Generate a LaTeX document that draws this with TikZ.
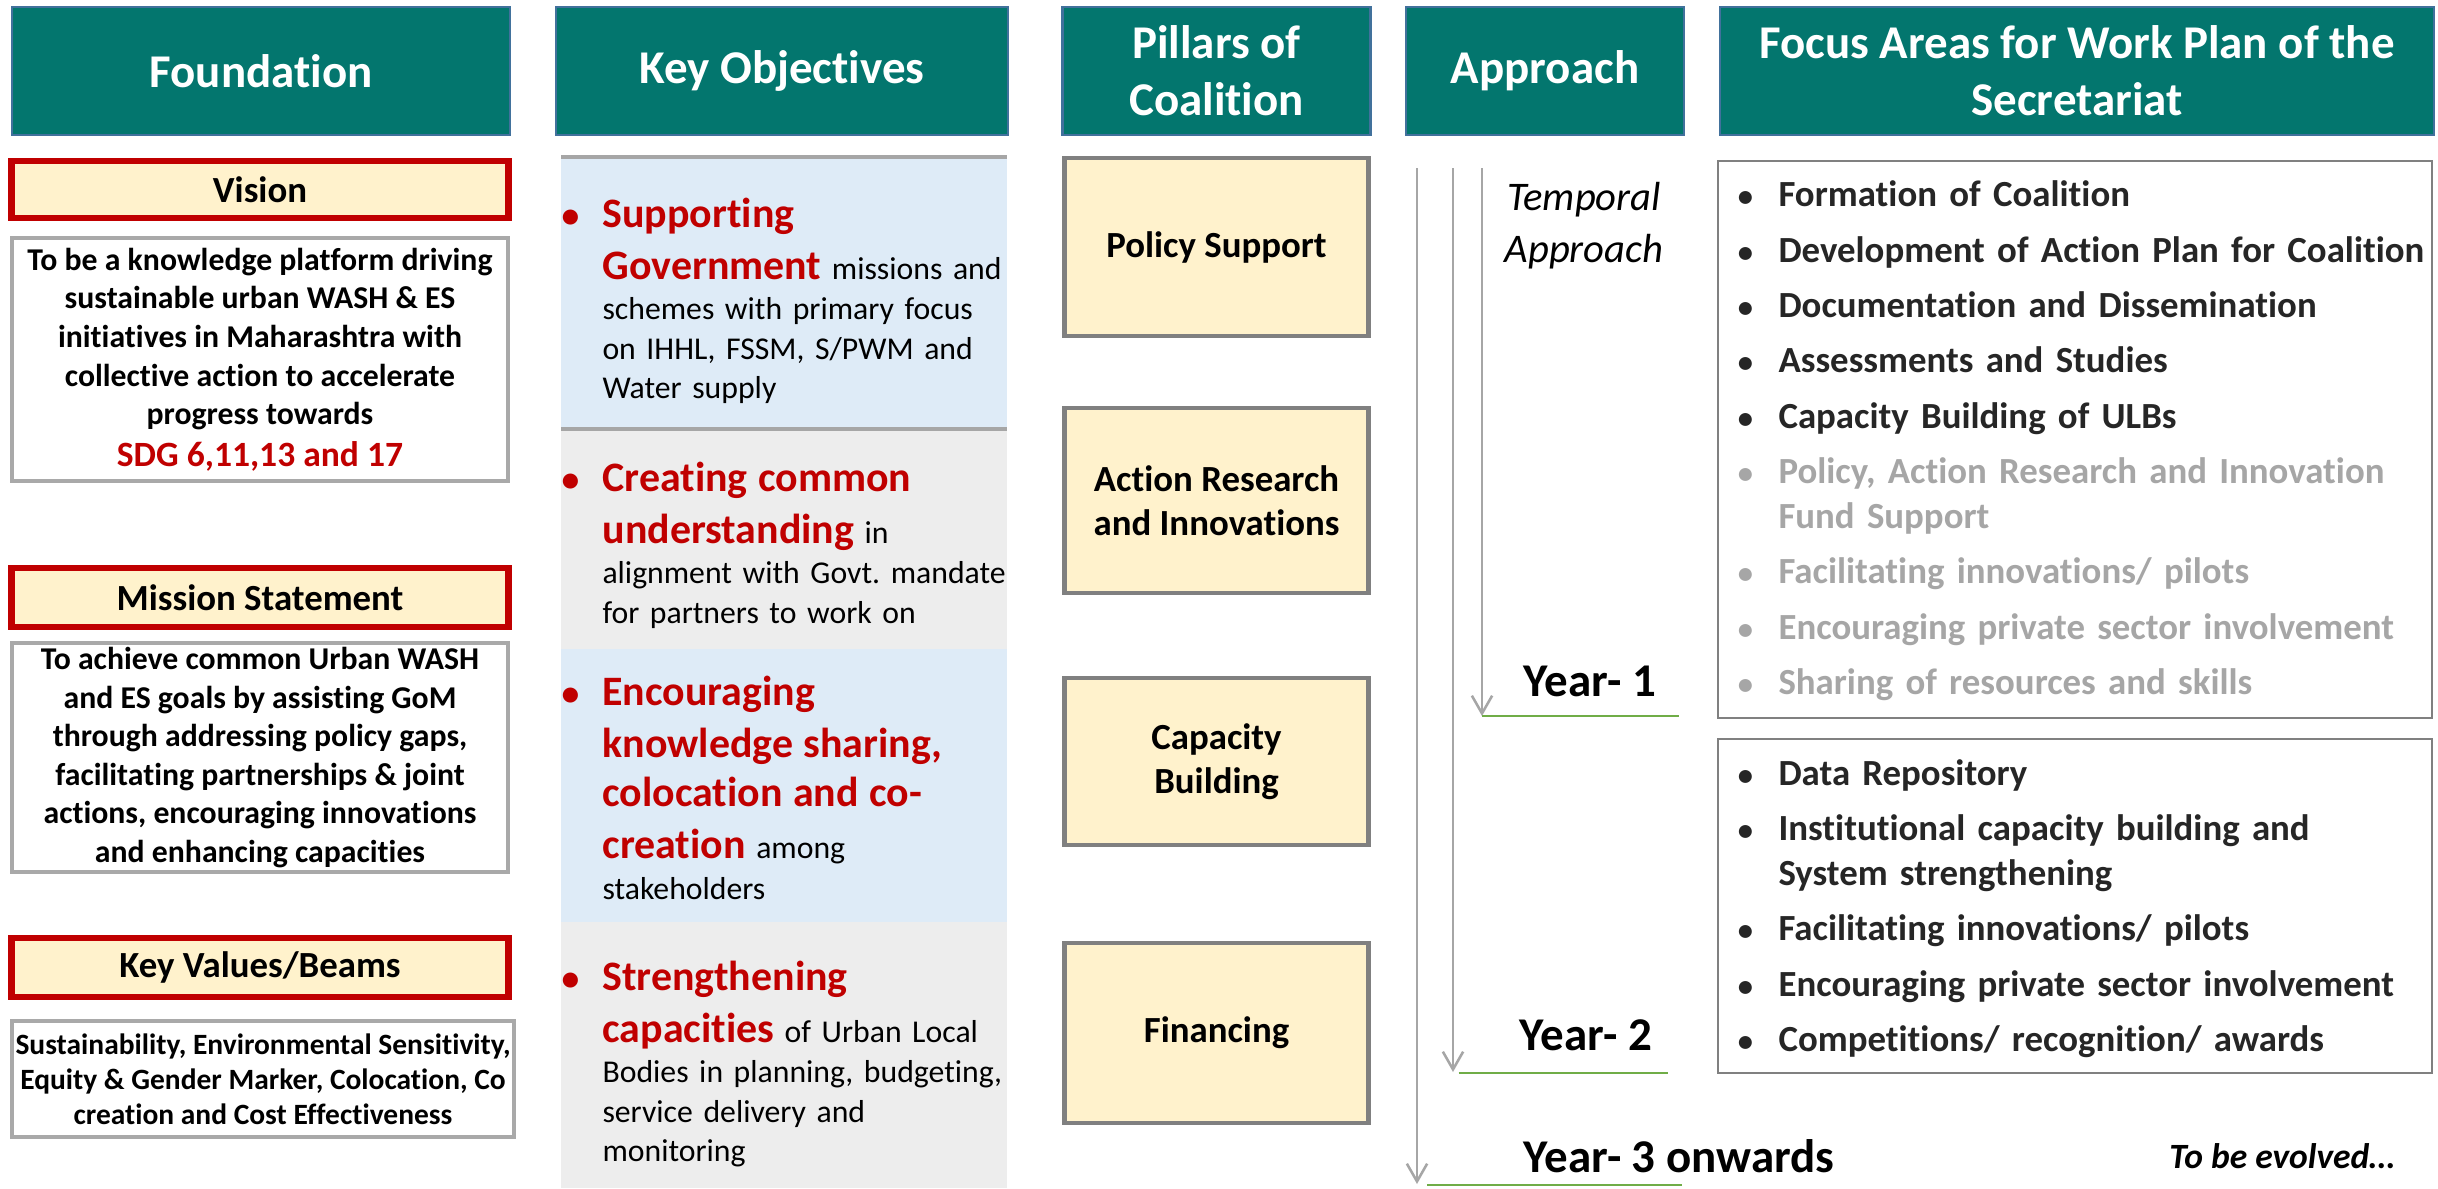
\documentclass[tikz,border=0pt]{standalone}
\usepackage{fontspec}
\setmainfont{Carlito}[Ligatures=NoCommon]
\usepackage{xcolor}
\usetikzlibrary{arrows.meta,positioning}
\frenchspacing

\definecolor{headteal}{HTML}{03766E}
\definecolor{headedge}{HTML}{41719C}
\definecolor{tagred}{HTML}{C00000}
\definecolor{cream}{HTML}{FFF2CC}
\definecolor{boxgray}{HTML}{A9A9A9}
\definecolor{pillgray}{HTML}{808080}
\definecolor{rowblue}{HTML}{DEEBF7}
\definecolor{rowgray}{HTML}{EDEDED}
\definecolor{fadegray}{HTML}{A6A6A6}
\definecolor{fdark}{HTML}{262626}
\definecolor{yeargreen}{HTML}{70AD47}

\newdimen\pxl
\pxl=0.39377pt

\newcommand{\tightlines}{\lineskiplimit=-50pt\relax}
\newcommand{\redbf}[1]{{\color{tagred}\fontsize{16.5}{20}\selectfont\bfseries #1}}
\newcommand{\objbul}{\leavevmode\llap{\makebox[25.2pt]{\color{tagred}\fontsize{14}{16}\selectfont\bfseries\textbullet}}}
\newcommand{\fbul}{\leavevmode\llap{\makebox[26pt]{\fontsize{12}{14}\selectfont\textbullet}}}
\newcommand{\fade}[1]{\textcolor{fadegray}{#1}}

\begin{document}
\begin{tikzpicture}[x=0.39377pt, y=-0.39377pt,
    header/.style={draw=headedge, line width=1pt, fill=headteal, text=white, align=center,
                   inner sep=0pt, minimum height=128*\pxl,
                   font=\fontsize{18.5}{22.5}\selectfont\bfseries},
    tagbox/.style={draw=tagred, line width=2.5pt, fill=cream, inner sep=0pt,
                   minimum width=497*\pxl, font=\fontsize{14.5}{17.5}\selectfont\bfseries},
    infobox/.style={draw=boxgray, line width=1.5pt, fill=white, align=center, inner sep=0pt,
                   font=\fontsize{12.5}{15.2}\selectfont\bfseries},
    pillar/.style={draw=pillgray, line width=1.8pt, fill=cream, align=center, inner sep=0pt,
                   minimum width=304*\pxl, font=\fontsize{14.5}{17.5}\selectfont\bfseries},
    objtext/.style={anchor=base west, text width=180pt, align=left, inner sep=0pt,
                   font=\fontsize{12.5}{15.4}\selectfont\tightlines},
    focusbox/.style={draw=pillgray, line width=1pt, minimum width=714*\pxl},
    focuslist/.style={anchor=base west, text width=265pt, align=left, inner sep=0pt, text=fdark,
                   font=\fontsize{14.5}{17.7}\selectfont\bfseries\tightlines},
    timeline/.style={draw=fadegray, line width=1pt, -{Straight Barb[length=7pt,width=8pt]}},
    yearline/.style={draw=yeargreen, line width=0.8pt},
    yearlabel/.style={anchor=base, inner sep=0pt, font=\fontsize{18.5}{22}\selectfont\bfseries},
  ]

\useasboundingbox[fill=white] (0,0) rectangle (2438,1188);

% column headers
\node[header, minimum width=498*\pxl] (hfound) at (261,71) {Foundation};
\node[header, minimum width=452*\pxl] (hobj) at (782,71) {Key Objectives};
\node[header, minimum width=308*\pxl] (hpill) at (1216.5,71) {Pillars of\\Coalition};
\node[header, minimum width=278*\pxl] (happr) at (1545,71) {Approach};
\node[header, minimum width=714*\pxl] (hfocus) at (2077,71) {Focus Areas for Work Plan of the\\Secretariat};

% foundation
\node[tagbox, minimum height=57*\pxl] (vision) at (260,189.5) {Vision};
\node[infobox, minimum width=496*\pxl, minimum height=243*\pxl] (visiontxt) at (260,359.5)
  {To be a knowledge platform driving\\ sustainable urban WASH \& ES\\ initiatives in Maharashtra with\\
   collective action to accelerate\\ progress towards\\[1.1pt]
   {\color{tagred}\fontsize{14}{17}\selectfont SDG 6,11,13 and 17}};
\node[tagbox, minimum height=59*\pxl] (mission) at (260,597.5) {Mission Statement};
\node[infobox, minimum width=496*\pxl, minimum height=229*\pxl] (missiontxt) at (260,757.5)
  {To achieve common Urban WASH\\ and ES goals by assisting GoM\\ through addressing policy gaps,\\
   facilitating partnerships \& joint\\ actions, encouraging innovations\\ and enhancing capacities};
\node[tagbox, minimum height=59*\pxl] (values) at (260,967.5) {Key Values/Beams};
\node[infobox, minimum width=502*\pxl, minimum height=116*\pxl,
      font=\fontsize{11.6}{13.8}\selectfont\bfseries] (valuestxt) at (263,1079)
  {Sustainability, Environmental Sensitivity,\\ Equity \& Gender Marker, Colocation, Co\\ creation and Cost Effectiveness};

% key objectives
\foreach \ya/\yb/\rowcol in {157/429/rowblue, 429/649/rowgray, 649/921.5/rowblue, 921.5/1188/rowgray}
  \fill[\rowcol] (561,\ya) rectangle (1007,\yb);
\draw[fadegray, line width=1.2pt] (561,157) -- (1007,157);
\draw[fadegray, line width=1.2pt] (561,429) -- (1007,429);

\node[objtext] (obj1) at (602,227.5) {\objbul\redbf{Supporting}\\[5.1pt]
  \redbf{Government} missions and\\[0.5pt]
  schemes with primary focus\\ on IHHL, FSSM, S/PWM and\\ Water supply};
\node[objtext] (obj2) at (602,491.5) {\objbul\redbf{Creating common}\\[5.1pt]
  \redbf{understanding} in\\[0.5pt]
  alignment with Govt. mandate\\ for partners to work on};
\node[objtext] (obj3) at (602,705.5) {\objbul\redbf{Encouraging}\\[5.1pt]
  \redbf{knowledge sharing,}\\[4pt]
  \redbf{colocation and co-}\\[5.1pt]
  \redbf{creation} among\\[0.5pt]
  stakeholders};
\node[objtext] (obj4) at (602,990.5) {\objbul\redbf{Strengthening}\\[5.1pt]
  \redbf{capacities} of Urban Local\\[0.5pt]
  Bodies in planning, budgeting,\\ service delivery and\\ monitoring};

% pillars
\node[pillar, minimum height=178*\pxl] (policy) at (1216.5,247) {Policy Support};
\node[pillar, minimum height=185*\pxl] (research) at (1216.5,500.5) {Action Research\\and Innovations};
\node[pillar, minimum height=167*\pxl] (capacity) at (1216.5,761.5) {Capacity\\Building};
\node[pillar, minimum height=180*\pxl] (finance) at (1216.5,1033) {Financing};

% approach
\coordinate (outertop) at (1417,168);
\coordinate (midtop) at (1453,168);
\coordinate (innertop) at (1482,168);
\coordinate (outerend) at (1417,1184);
\coordinate (midend) at (1453,1072);
\coordinate (innerend) at (1482,716);
\draw[timeline] (outertop) -- (outerend);
\draw[timeline] (midtop) -- (midend);
\draw[timeline] (innertop) -- (innerend);

\node[anchor=base, text width=110pt, align=center, inner sep=0pt,
      font=\fontsize{16}{20.3}\selectfont\itshape] (temporal) at (1584,210.5) {Temporal\\Approach};

\node[yearlabel] (year1) at (1590,696) {Year- 1};
\node[yearlabel] (year2) at (1586,1050) {Year- 2};
\node[yearlabel] (year3) at (1679,1172) {Year- 3 onwards};
\coordinate (g1a) at (1482,716);
\coordinate (g1b) at (1678.5,716);
\coordinate (g2a) at (1458.5,1073);
\coordinate (g2b) at (1668,1073);
\coordinate (g3a) at (1427,1185);
\coordinate (g3b) at (1682,1185);
\draw[yearline] (g1a) -- (g1b);
\draw[yearline] (g2a) -- (g2b);
\draw[yearline] (g3a) -- (g3b);

% focus areas
\node[focusbox, minimum height=557*\pxl] (phase1) at (2075,439.5) {};
\node[focusbox, minimum height=334*\pxl] (phase2) at (2075,906) {};
\node[focuslist] (list1) at (1778,206.7) {\fbul Formation of Coalition\\[4.1pt]
  \fbul Development of Action Plan for Coalition\\[4.1pt]
  \fbul Documentation and Dissemination\\[4.1pt]
  \fbul Assessments and Studies\\[4.1pt]
  \fbul Capacity Building of ULBs\\[4.1pt]
  \fade{\fbul Policy, Action Research and Innovation}\\
  \fade{Fund Support}\\[4.1pt]
  \fade{\fbul Facilitating innovations/ pilots}\\[4.1pt]
  \fade{\fbul Encouraging private sector involvement}\\[4.1pt]
  \fade{\fbul Sharing of resources and skills}};
\node[focuslist] (list2) at (1778,785) {\fbul Data Repository\\[4.1pt]
  \fbul Institutional capacity building and\\ System strengthening\\[4.1pt]
  \fbul Facilitating innovations/ pilots\\[4.1pt]
  \fbul Encouraging private sector involvement\\[4.1pt]
  \fbul Competitions/ recognition/ awards};

\node[anchor=base, inner sep=0pt, font=\fontsize{14}{17}\selectfont\bfseries\itshape] (evolve) at (2282,1168.5) {To be evolved…};

\end{tikzpicture}
\end{document}
